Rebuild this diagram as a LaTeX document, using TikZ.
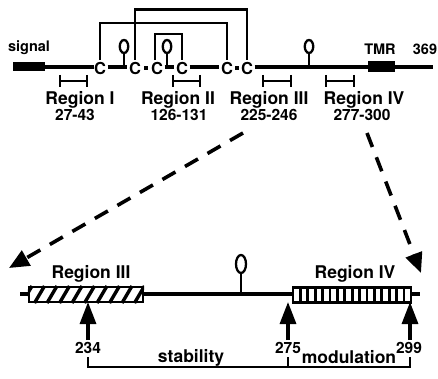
\documentclass[tikz,border=0pt]{standalone}
\usepackage{fontspec}
\setmainfont{TeX Gyre Heros}
\usetikzlibrary{arrows.meta,shapes.geometric}
\begin{document}
\begin{tikzpicture}[x=1pt,y=-1pt,
  lbl/.style={font=\fontsize{17.5}{17.5}\selectfont\bfseries, inner sep=0},
  num/.style={font=\fontsize{15.5}{15.5}\selectfont\bfseries, inner sep=0},
  small/.style={font=\fontsize{14.5}{14.5}\selectfont\bfseries, inner sep=0},
  cys/.style={font=\fontsize{16.5}{16.5}\selectfont\bfseries, inner sep=0},
  mainline/.style={line width=4.2pt},
  ssbond/.style={line width=2.9pt, shorten <=1.5pt, shorten >=1.5pt},
  brk/.style={line width=2.6pt},
  oval/.style={draw, ellipse, line width=2.3pt, inner sep=0},
  stem/.style={line width=2.3pt},
  dot/.style={fill, minimum size=4.5pt, inner sep=0},
  blk/.style={fill, inner sep=0},
  dasharrow/.style={line width=3.6pt, dash pattern=on 15pt off 11pt, -{Triangle[length=20pt,width=17pt]}},
  uparrow/.style={line width=3.2pt, -{Triangle[length=22pt,width=16pt]}},
  thin line/.style={line width=2.4pt}]
\useasboundingbox (0,0) rectangle (438,379);
% ---------- top protein ----------
\node[small, anchor=base] (signal) at (29,52) {signal};
\node[blk, minimum width=32pt, minimum height=9pt] (sig) at (29,67) {};
\node[cys] (c1) at (100,68) {C};
\node[cys] (c2) at (135,68) {C};
\node[dot] (d1) at (146,68) {};
\node[cys] (c3) at (157,68) {C};
\node[cys] (c4) at (182,68) {C};
\node[cys] (c5) at (227,68) {C};
\node[dot] (d2) at (237,68) {};
\node[cys] (c6) at (247,68) {C};
\coordinate (cend) at (433,67);
\draw[mainline] (sig.east) -- (c1.west |- sig.east);
\draw[mainline, shorten <=1.5pt, shorten >=1.5pt] (c1.east |- sig.east) -- (c2.west |- sig.east);
\draw[mainline, shorten <=1.5pt, shorten >=1.5pt] (c3.east |- sig.east) -- (c4.west |- sig.east);
\draw[mainline, shorten <=1.5pt, shorten >=1.5pt] (c4.east |- sig.east) -- (c5.west |- sig.east);
\draw[mainline, shorten <=1.5pt] (c6.east |- sig.east) -- (cend);
\node[blk, minimum width=27pt, minimum height=11pt] (tmr) at (381.5,66.5) {};
\node[small, anchor=base] (tmrl) at (380,55) {TMR};
\node[small, anchor=base] (n369) at (425,55) {369};
% lollipops
\coordinate (l1) at (124,67);
\coordinate (l2) at (167,67);
\coordinate (l3) at (309,67);
\node[oval, minimum width=8.5pt, minimum height=13pt] (o1) at (124,46.5) {};
\node[oval, minimum width=8.5pt, minimum height=13pt] (o2) at (167,46.5) {};
\node[oval, minimum width=8.5pt, minimum height=13pt] (o3) at (309,46.5) {};
\draw[stem] (o1.south) -- (l1);
\draw[stem] (o2.south) -- (l2);
\draw[stem] (o3.south) -- (l3);
% disulfide bonds
\draw[ssbond] (c1.north) -- (c1.north |- 0,23) -| (c5.north);
\draw[ssbond] (c2.north) -- (c2.north |- 0,9.5) -| (c6.north);
\draw[ssbond] ([xshift=-2pt]c3.north) -- ([xshift=-2pt]c3.north |- 0,34) -| (c4.north);
% region brackets
\draw[brk] (60,75) -- (60,87) (60,81) -- (87,81) (87,75) -- (87,87);
\draw[brk] (173,75) -- (173,87) (173,81) -- (200,81) (200,75) -- (200,87);
\draw[brk] (263,75) -- (263,87) (263,81) -- (291,81) (291,75) -- (291,87);
\draw[brk] (326,75) -- (326,87) (326,81) -- (354,81) (354,75) -- (354,87);
\node[lbl] (r1) at (80,100) {Region I};
\node[lbl] (r2) at (178,100) {Region II};
\node[lbl] (r3) at (269,100) {Region III};
\node[lbl] (r4) at (364,100) {Region IV};
\node[num] (n1) at (75,115) {27-43};
\node[num] (n2) at (179,115) {126-131};
\node[num] (n3) at (269,115) {225-246};
\node[num] (n4) at (362,115) {277-300};
% ---------- dashed arrows ----------
\coordinate (a1s) at (243,133);
\coordinate (a1e) at (9,268);
\coordinate (a2s) at (367,133);
\coordinate (a2e) at (421,273);
\draw[dasharrow] (a1s) -- (a1e);
\draw[dasharrow] (a2s) -- (a2e);
% ---------- bottom region detail ----------
\coordinate (bs) at (20,294);
\coordinate (be) at (420,294);
\draw[mainline, line width=3.6pt] (bs) -- (be);
\node[draw, fill=white, line width=2.2pt, minimum width=114pt, minimum height=15pt, inner sep=0] (box3) at (86,294.5) {};
\begin{scope}
  \clip (box3.south west) rectangle (box3.north east);
  \foreach \i in {0,...,10} {
    \draw[line width=3.4pt] (22+\i*12.5,303) -- (32+\i*12.5,286);
  }
\end{scope}
\node[draw, line width=2.2pt, minimum width=114pt, minimum height=15pt, inner sep=0] at (box3) {};
\node[draw, fill=white, line width=2.2pt, minimum width=118pt, minimum height=15pt, inner sep=0] (box4) at (352,295) {};
\foreach \i in {1,...,15} {
  \draw[line width=2.8pt] (293+\i*7.4,288) -- (293+\i*7.4,302);
}
\node[lbl] (b3) at (91,274) {Region III};
\node[lbl] (b4) at (355,274) {Region IV};
\coordinate (l4) at (241,294);
\node[oval, minimum width=10pt, minimum height=18pt] (o4) at (241,264) {};
\draw[stem] (o4.south) -- (l4);
% arrows from below
\node[num] (p234) at (88,348) {234};
\node[num] (p275) at (288,348) {275};
\node[num] (p299) at (409,348) {299};
\coordinate (t234) at (88,302);
\coordinate (t275) at (288,302);
\coordinate (t299) at (410,302);
\draw[uparrow] (p234.north) ++(0,-2) -- (t234);
\draw[uparrow] (p275.north) ++(0,-2) -- (t275);
\draw[uparrow] ([xshift=1pt]p299.north) ++(0,-2) -- (t299);
\draw[thin line] (88,357) -- (88,367) -- (410,367) -- (410,357);
\draw[thin line] (288,357) -- (288,367);
\node[lbl] (stab) at (191,357.5) {stability};
\node[lbl] (mod) at (349,357.5) {modulation};
\end{tikzpicture}
\end{document}
